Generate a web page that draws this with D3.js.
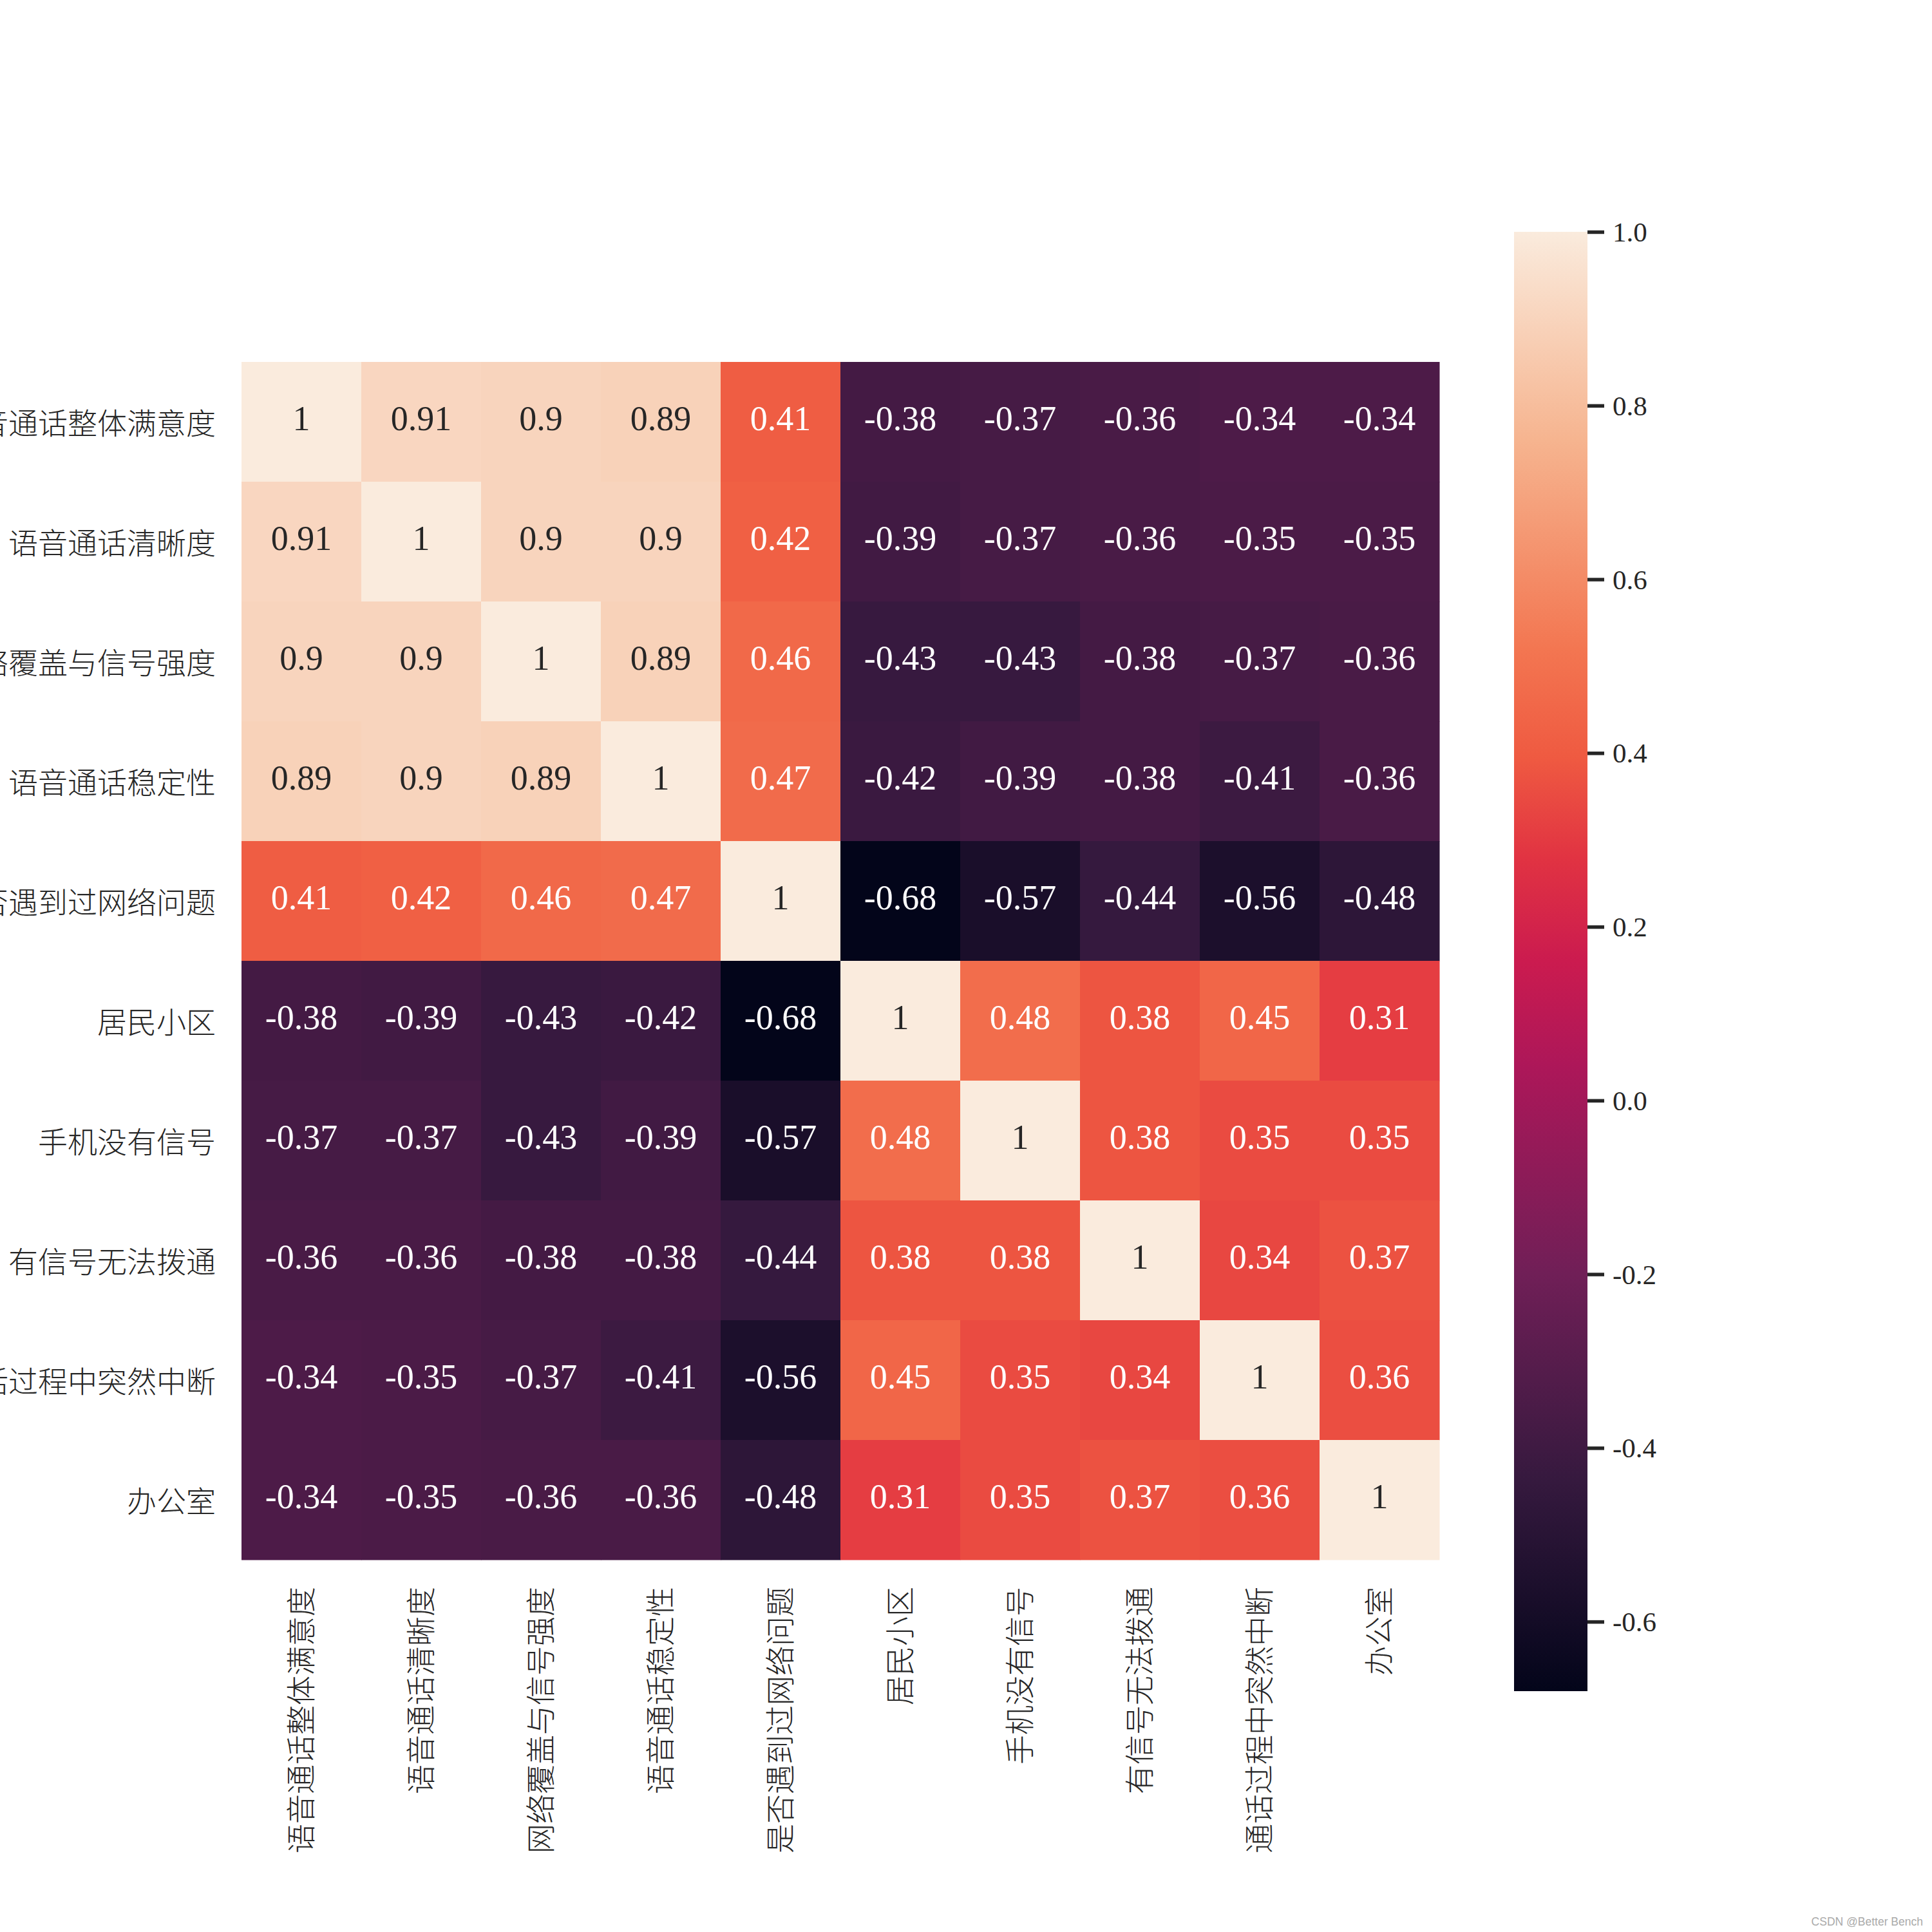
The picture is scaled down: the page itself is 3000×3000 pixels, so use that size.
<!DOCTYPE html>
<html lang="zh">
<head>
    <meta charset="UTF-8">
    <title>相关性热力图</title>
    <script src="https://d3js.org/d3.v7.min.js"></script>
    <style>
        html, body { margin:0; padding:0; background:#fff; }
        text { fill:#262626; }
        .cjk text { font-family:"Noto Sans CJK SC", sans-serif; font-weight:300; font-size:46px; }
        .num { font-family:"Liberation Serif", serif; }
    </style>
</head>
<body>
    <svg id="chart" width="3000" height="3000"></svg>
    <script>
        const labels = ['语音通话整体满意度','语音通话清晰度','网络覆盖与信号强度','语音通话稳定性','是否遇到过网络问题','居民小区','手机没有信号','有信号无法拨通','通话过程中突然中断','办公室'];
        const corr = [
            [1,0.91,0.9,0.89,0.41,-0.38,-0.37,-0.36,-0.34,-0.34],
            [0.91,1,0.9,0.9,0.42,-0.39,-0.37,-0.36,-0.35,-0.35],
            [0.9,0.9,1,0.89,0.46,-0.43,-0.43,-0.38,-0.37,-0.36],
            [0.89,0.9,0.89,1,0.47,-0.42,-0.39,-0.38,-0.41,-0.36],
            [0.41,0.42,0.46,0.47,1,-0.68,-0.57,-0.44,-0.56,-0.48],
            [-0.38,-0.39,-0.43,-0.42,-0.68,1,0.48,0.38,0.45,0.31],
            [-0.37,-0.37,-0.43,-0.39,-0.57,0.48,1,0.38,0.35,0.35],
            [-0.36,-0.36,-0.38,-0.38,-0.44,0.38,0.38,1,0.34,0.37],
            [-0.34,-0.35,-0.37,-0.41,-0.56,0.45,0.35,0.34,1,0.36],
            [-0.34,-0.35,-0.36,-0.36,-0.48,0.31,0.35,0.37,0.36,1]
        ];
        const cbarTicks = [1,0.8,0.6,0.4,0.2,0,-0.2,-0.4,-0.6];
        const vmin = -0.68, vmax = 1;
        // rocket colormap
        const rocketPos = [0,0.143,0.286,0.429,0.5,0.571,0.64,0.714,0.857,1];
        const rocketCol = ['#03051a','#35193e','#701f57','#ad1759','#cb1b4f','#e13342','#ef5a41','#f37651','#f6b48f','#faebdd'];

        const t = d3.scaleLinear().domain([vmin,vmax]).range([0,1]);
        const rocket = d3.scaleLinear().domain(rocketPos).range(rocketCol).interpolate(d3.interpolateRgb);
        const color = v => rocket(t(v));

        const svg = d3.select('#chart');
        const x = d3.scaleBand().domain(labels).range([375,2235]);
        const y = d3.scaleBand().domain(labels).range([562,2422]);

        corr.forEach((row,i) => {
            const g = svg.append('g');
            g.selectAll('rect').data(row).enter().append('rect')
                .attr('x',(d,j)=>x(labels[j])).attr('y',y(labels[i]))
                .attr('width',x.bandwidth()+0.5).attr('height',y.bandwidth()+0.5)
                .attr('fill',d=>color(d));
            g.selectAll('text').data(row).enter().append('text')
                .attr('class','num')
                .attr('x',(d,j)=>x(labels[j])+x.bandwidth()/2)
                .attr('y',y(labels[i])+y.bandwidth()/2-5)
                .attr('text-anchor','middle').attr('dominant-baseline','central')
                .attr('font-size',54)
                .style('fill',d=>d3.lab(color(d)).l>75?'#262626':'#ffffff')
                .text(d=>d);
        });

        const axL = svg.append('g').attr('class','cjk').attr('transform','translate(335,4)')
            .call(d3.axisLeft(y).tickSize(0).tickPadding(0));
        axL.select('.domain').remove();

        const axB = svg.append('g').attr('class','cjk').attr('transform','translate(0,2464)')
            .call(d3.axisBottom(x).tickSize(0).tickPadding(0));
        axB.select('.domain').remove();
        axB.selectAll('text').attr('transform','rotate(-90)').attr('text-anchor','end')
            .attr('x',0).attr('y',0).attr('dy','0.35em');

        // colorbar
        const cbar = d3.scaleLinear().domain([vmax,vmin]).range([360,2626]);
        const grad = svg.append('defs').append('linearGradient').attr('id','rocket')
            .attr('x1',0).attr('y1',1).attr('x2',0).attr('y2',0);
        grad.selectAll('stop').data(rocketPos).enter().append('stop')
            .attr('offset',d=>d).attr('stop-color',(d,i)=>rocketCol[i]);
        svg.append('rect').attr('x',2351).attr('y',cbar(vmax)).attr('width',114)
            .attr('height',cbar(vmin)-cbar(vmax)).attr('fill','url(#rocket)');
        const axR = svg.append('g').attr('class','num').attr('transform','translate(2465,0)')
            .call(d3.axisRight(cbar).tickValues(cbarTicks).tickSize(26).tickPadding(13).tickFormat(d3.format('.1f')));
        axR.select('.domain').remove();
        axR.selectAll('line').attr('stroke','#262626').attr('stroke-width',5.5);
        axR.selectAll('text').attr('font-size',43).attr('font-family','Liberation Serif').attr('dy','0.34em')
            .text(d=>d3.format('.1f')(d).replace('−','-'));

        svg.append('text').attr('x',2986).attr('y',2990).attr('text-anchor','end')
            .attr('font-family','Liberation Sans').attr('font-size',17.5).style('fill','#aaaaaa')
            .text('CSDN @Better Bench');
    </script>
</body>
</html>
